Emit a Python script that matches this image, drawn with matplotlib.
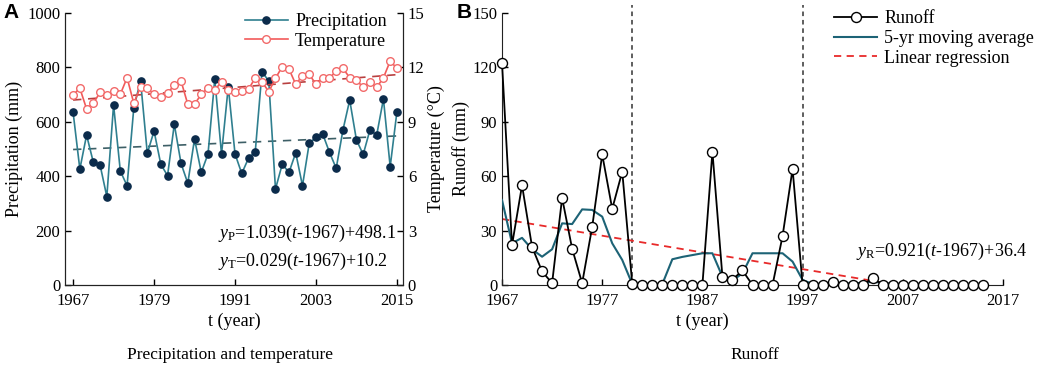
import numpy as np
import matplotlib
matplotlib.use('Agg')
import matplotlib.pyplot as plt

plt.rcParams['font.family'] = ['Liberation Serif', 'DejaVu Serif']
plt.rcParams['mathtext.fontset'] = 'custom'
plt.rcParams['mathtext.rm'] = 'Liberation Serif'
plt.rcParams['mathtext.it'] = 'Liberation Serif:italic'

# ---- data ----
years = list(range(1967, 2016))
precip = [635, 426, 551, 451, 441, 325, 662, 419, 365, 652, 751, 484, 566, 444, 402, 591,
          447, 374, 537, 414, 482, 757, 481, 729, 482, 410, 466, 490, 784, 750, 353, 444,
          414, 486, 365, 521, 543, 555, 488, 429, 570, 680, 533, 480, 570, 551, 684, 435, 637]
temp = [10.48, 10.85, 9.71, 10.02, 10.63, 10.48, 10.70, 10.52, 11.43, 10.02, 10.94, 10.85,
        10.52, 10.38, 10.57, 11.03, 11.25, 9.97, 9.97, 10.52, 10.88, 10.75, 11.21, 10.75,
        10.66, 10.72, 10.79, 11.43, 11.21, 10.66, 11.40, 12.04, 11.91, 11.07, 11.54, 11.62,
        11.07, 11.43, 11.40, 11.80, 11.95, 11.43, 11.30, 10.90, 11.18, 10.90, 11.43, 12.35, 11.95]
precip_trend_years = [1967, 2015]
precip_trend = [498.1, 548.0]
temp_trend_years = [1967, 2015]
temp_trend = [10.2, 11.6]

runoff = [122.5, 22, 55, 21, 7.5, 1, 48, 20, 1, 32, 72, 42, 62.5, 0.5, 0, 0, 0, 0, 0, 0, 0,
          73.5, 4.5, 3, 8, 0, 0, 0, 27, 64, 0, 0, 0, 1.5, 0, 0, 0, 4, 0, 0, 0, 0, 0, 0, 0, 0,
          0, 0, 0]
ma_years = list(range(1967, 2014))
moving_avg = [46.9, 23, 26, 19.7, 15.6, 19.7, 34, 33.6, 41.7, 41.4, 37.7, 23, 13.8, 0.5, 0.5,
              0.5, 0.5, 14.2, 15.5, 16.5, 17.5, 17.5, 4.6, 2.5, 6.4, 17.5, 17.5, 17.5, 17.5,
              12.9, 2.8, 0.5, 0.5, 0.8, 0.8, 0.8, 1.2, 1.8, 1.2, 0.5, 0.5, 0.5, 0.5, 0.5, 0.5,
              0.3, 0.3]
reg_years = [1967, 2006.5]
reg_vals = [36.4, 0.0]
breaks = [1980, 1997]

fig = plt.figure(figsize=(10.45, 3.70), dpi=100)

# ---------------- panel A ----------------
ax = fig.add_axes([65/1045, 85/370, 338/1045, 272/370])
ax.plot(years, precip, color='#2f7f8f', lw=1.2, marker='o', ms=5.2,
        mfc='#0b2b4b', mec='#0b2b4b', label='Precipitation', zorder=3)
ax.plot(precip_trend_years, precip_trend, color='#3d5f66', lw=1.2, ls=(0, (5, 4)), zorder=2)
ax.set_xlim(1965.8, 2015.9)
ax.set_ylim(0, 1000)
ax.set_xticks([1967, 1979, 1991, 2003, 2015])
ax.set_yticks(range(0, 1001, 200))
ax.set_ylabel('Precipitation (mm)', fontsize=13)
ax.yaxis.set_label_coords(-0.125, 0.5)
ax.set_xlabel('t (year)', fontsize=13)
ax.xaxis.set_label_coords(0.5, -0.1)
ax.spines['top'].set_visible(False)

ax2 = ax.twinx()
ax2.plot(years, temp, color='#f25a5a', lw=1.2, marker='o', ms=5.5,
         mfc='white', mec='#f26a6a', mew=1.0, label='Temperature', zorder=3)
ax2.plot(temp_trend_years, temp_trend, color='#b84040', lw=1.2, ls=(0, (5, 4)), zorder=2)
ax2.set_ylim(0, 15)
ax2.set_yticks(range(0, 16, 3))
ax2.set_ylabel('Temperature (°C)', fontsize=13)
ax2.yaxis.set_label_coords(1.074, 0.5)
ax2.spines['top'].set_visible(False)

for a in (ax, ax2):
    a.tick_params(direction='in', length=4, labelsize=12, width=1)
    for s in a.spines.values():
        s.set_color('#222222')
ax.tick_params(axis='x', pad=6)

h1, l1 = ax.get_legend_handles_labels()
h2, l2 = ax2.get_legend_handles_labels()
ax2.legend(h1 + h2, l1 + l2, loc='upper right', bbox_to_anchor=(1.0, 1.06), frameon=False,
           fontsize=13, handlelength=2.4, handletextpad=0.4, labelspacing=0.15)

ax.text(0.453, 0.19, r'$y_{\rm P}$=1.039($t$-1967)+498.1', transform=ax.transAxes,
        fontsize=13, va='center', ha='left')
ax.text(0.453, 0.085, r'$y_{\rm T}$=0.029($t$-1967)+10.2', transform=ax.transAxes,
        fontsize=13, va='center', ha='left')

# ---------------- panel B ----------------
bx = fig.add_axes([502/1045, 85/370, 501/1045, 272/370])
bx.plot(years, runoff, color='black', lw=1.3, marker='o', ms=7.2, mfc='white',
        mec='black', mew=1.0, label='Runoff', zorder=4, clip_on=False)
bx.plot(ma_years, moving_avg, color='#1d6376', lw=1.5, label='5-yr moving average', zorder=3)
bx.plot(reg_years, reg_vals, color='#e82a2a', lw=1.3, ls=(0, (4, 3)), label='Linear regression',
        zorder=2)
for b in breaks:
    bx.axvline(b, ymin=0, ymax=1.03, color='#333333', lw=1.1, ls=(0, (3, 2.5)), clip_on=False,
               zorder=1)
bx.set_xlim(1967, 2017)
bx.set_ylim(0, 150)
bx.set_xticks(range(1967, 2018, 10))
bx.set_yticks(range(0, 151, 30))
bx.set_ylabel('Runoff (mm)', fontsize=13)
bx.yaxis.set_label_coords(-0.064, 0.5)
bx.set_xlabel('t (year)', fontsize=13)
bx.xaxis.set_label_coords(0.4, -0.1)
bx.spines['top'].set_visible(False)
bx.spines['right'].set_visible(False)
bx.tick_params(direction='in', length=4, labelsize=12, width=1)
bx.tick_params(axis='x', pad=6)
for s in bx.spines.values():
    s.set_color('#222222')
bx.legend(loc='upper right', bbox_to_anchor=(1.095, 1.07), frameon=False, fontsize=13,
          handlelength=2.4, handletextpad=0.4, labelspacing=0.15)
bx.text(0.707, 0.125, r'$y_{\rm R}$=0.921($t$-1967)+36.4', transform=bx.transAxes,
        fontsize=13, va='center', ha='left')

# panel letters and captions
fig.text(3/1045, 1 - 12/370, 'A', fontsize=15, fontweight='bold', family='Liberation Sans',
         va='center', ha='left')
fig.text(457/1045, 1 - 12/370, 'B', fontsize=15, fontweight='bold', family='Liberation Sans',
         va='center', ha='left')
fig.text(230/1045, 1 - 355/370, 'Precipitation and temperature', fontsize=12.5,
         va='center', ha='center')
fig.text(755/1045, 1 - 355/370, 'Runoff', fontsize=12.5, va='center', ha='center')

fig.savefig('out.png', dpi=100)
